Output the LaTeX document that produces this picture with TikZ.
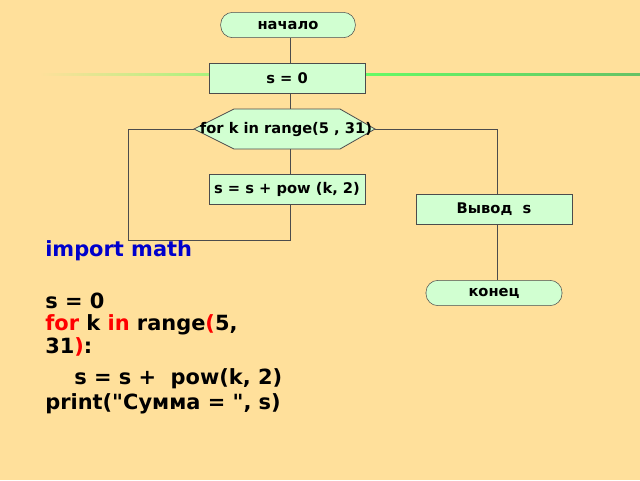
\documentclass[tikz,border=0pt]{standalone}
\usepackage{fontspec}
\setmainfont{DejaVu Sans}
\begin{document}
\begin{tikzpicture}[x=0.75pt,y=-0.75pt,
  blk/.style={draw=black!70,fill=green!18,minimum width=117pt,minimum height=22.5pt,inner sep=0pt,font=\bfseries\fontsize{11}{13}\selectfont},
  ln/.style={draw=black!70,line width=0.6pt},
  code/.style={anchor=west,inner sep=0pt,font=\bfseries\fontsize{15.7}{18}\selectfont}]
\fill[fill={rgb,255:red,255;green,224;blue,155}] (0,0) rectangle (640,480);
\useasboundingbox (0,0) rectangle (640,480);
\shade[left color={rgb,255:red,255;green,224;blue,155}, right color=green!60!black!60, middle color=green!60] (40,73) rectangle (640,75.5);
\node[blk,rounded corners=9pt,minimum width=101pt,minimum height=19pt] (start) at (288,25) {начало};
\node[blk] (s0) at (287,78) {s = 0};
\draw[ln,fill=green!18] (194,129) coordinate (hl) -- (234,109) -- (340,109) -- (375,129) coordinate (hr) -- (340,149) -- (234,149) -- cycle;
\node[font=\bfseries\fontsize{11}{13}\selectfont,inner sep=0pt] (loop) at (286,130) {for k in range(5 , 31)};
\coordinate (ht) at (290,109);
\coordinate (hb) at (290,149);
\node[blk] (body) at (287,189) {s = s + pow (k, 2)};
\node[blk] (out) at (494,209) {Вывод\ \ s};
\node[blk,rounded corners=9pt,minimum width=102pt,minimum height=19pt] (end) at (494,293) {конец};
\coordinate (a1) at (128,129); \coordinate (a2) at (128,240); \coordinate (a3) at (290,240);
\coordinate (b1) at (497,129);
\draw[ln] (start.south-|ht) -- (s0.north-|ht);
\draw[ln] (s0.south-|ht) -- (ht);
\draw[ln] (hb) -- (hb|-body.north);
\draw[ln] (body.south-|a3) -- (a3) -- (a2) -- (a1) -- (hl);
\draw[ln] (hr) -- (b1) -- (b1|-out.north);
\draw[ln] (b1|-out.south) -- (b1|-end.north);
\node[code] (c1) at (45,251) {\textcolor{blue!80!black}{import math}};
\node[code] (c2) at (45,301) {s = 0};
\node[code] (c3) at (45,325) {\textcolor{red}{for} k \textcolor{red}{in} range\textcolor{red}{(}5,};
\node[code] (c4) at (45,347) {31\textcolor{red}{)}:};
\node[code] (c5) at (74,379) {s = s +\ \ pow(k, 2)};
\node[code] (c6) at (45,404) {print(\textquotedbl Сумма = \textquotedbl, s)};
\end{tikzpicture}
\end{document}
